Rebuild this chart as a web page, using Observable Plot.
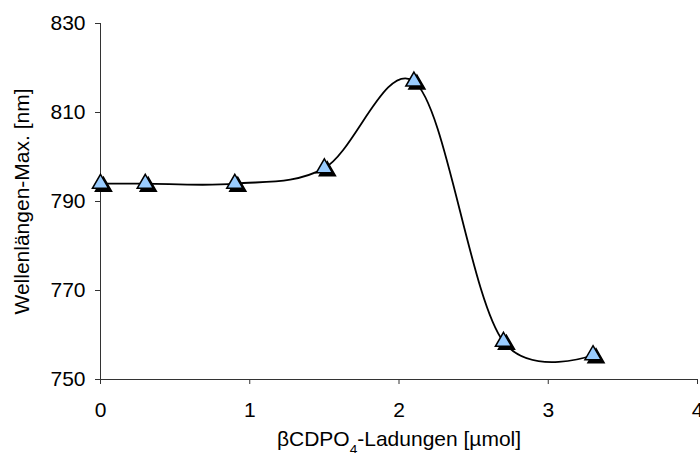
<!DOCTYPE html>
<html><head><meta charset="utf-8">
<script src="https://cdn.jsdelivr.net/npm/d3@7"></script>
<script src="https://cdn.jsdelivr.net/npm/@observablehq/plot@0.6"></script>
<style>body{margin:0;background:#fff}</style>
</head><body><div id="chart"></div>
<script>
const loadings = [0, 0.3, 0.9, 1.5, 2.1, 2.7, 3.3];
const wavelengthMax = [794, 794, 794, 797.5, 817, 758.5, 755.5];
const xTicks = [0, 1, 2, 3, 4];
const yTicks = [750, 770, 790, 810, 830];
const xLabel = "βCDPO4-Ladungen [µmol]";
const yLabel = "Wellenlängen-Max. [nm]";

const data = loadings.map((x, i) => ({x, y: wavelengthMax[i]}));

const chart = Plot.plot({
  width: 700, height: 453,
  marginLeft: 100, marginRight: 3, marginTop: 23, marginBottom: 74,
  style: {fontFamily: "'Liberation Sans', Arial, sans-serif", fontSize: "21px", background: "#fff", color: "#000"},
  x: {domain: [0, 4], labelArrow: false},
  y: {domain: [750, 830], labelArrow: false},
  marks: [
    Plot.axisX(xTicks, {tickSize: 5, tickPadding: 18, tickFormat: d3.format("d"), label: xLabel, labelAnchor: "center", labelOffset: 66, labelArrow: false, stroke: "#333", fill: "#000"}),
    Plot.axisY(yTicks, {tickSize: 5, tickPadding: 10, tickFormat: d3.format("d"), label: yLabel, labelAnchor: "center", labelOffset: 86, labelArrow: false, stroke: "#333", fill: "#000"}),
    Plot.ruleY([750], {stroke: "#333", strokeWidth: 1}),
    Plot.ruleX([0], {stroke: "#333", strokeWidth: 1}),
    Plot.line(data, {x: "x", y: "y", curve: "catmull-rom", tension: 0.15, stroke: "#000", strokeWidth: 1.8}),
    Plot.dot(data, {x: "x", y: "y", symbol: "triangle", r: 6, fill: "#000", stroke: "#000", strokeWidth: 1.5, dx: 3, dy: 3}),
    Plot.dot(data, {x: "x", y: "y", symbol: "triangle", r: 6, fill: "#99ccff", stroke: "#000", strokeWidth: 1.5})
  ]
});
document.getElementById("chart").appendChild(chart);

// subscript the 4 in the x-axis label
chart.querySelectorAll("text").forEach(t => {
  if (t.textContent === xLabel) {
    const sel = d3.select(t);
    sel.text(null);
    sel.append("tspan").text("βCDPO");
    sel.append("tspan").attr("baseline-shift", "sub").attr("font-size", "65%").text("4");
    sel.append("tspan").text("-Ladungen [µmol]");
  }
});
</script>
</body></html>
